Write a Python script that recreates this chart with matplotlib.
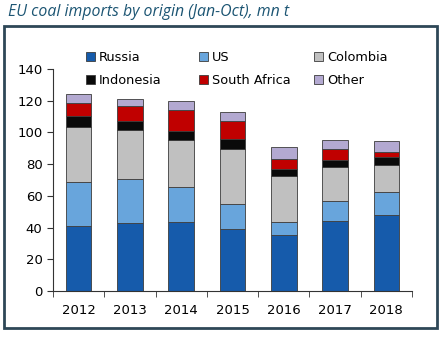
import matplotlib.pyplot as plt
from matplotlib.patches import Rectangle
import numpy as np

years = ["2012", "2013", "2014", "2015", "2016", "2017", "2018"]
russia = [41.0, 43.0, 43.4, 38.8, 35.6, 43.9, 47.7]
us = [27.9, 27.5, 22.2, 16.2, 7.8, 12.6, 14.7]
colombia = [34.3, 31.1, 29.7, 34.4, 29.3, 21.5, 17.1]
indonesia = [7.4, 5.3, 5.7, 6.3, 4.5, 4.7, 4.9]
south_africa = [8.0, 9.5, 13.3, 11.2, 6.3, 6.7, 3.3]
other = [5.7, 4.7, 5.7, 6.1, 7.6, 6.1, 6.8]

series = [("Russia", russia, "#165bab"),
          ("US", us, "#68a5dc"),
          ("Colombia", colombia, "#c0c0c0"),
          ("Indonesia", indonesia, "#0a0a0a"),
          ("South Africa", south_africa, "#c00000"),
          ("Other", other, "#b3a9d1")]

W, H = 443, 338
fig = plt.figure(figsize=(W / 100, H / 100), dpi=100)
plt.rcParams['font.family'] = ['DejaVu Sans']

# outer frame
fig.patches.append(Rectangle((4 / W, 1 - 328 / H), 433 / W, 302 / H,
                             transform=fig.transFigure, fill=False,
                             edgecolor="#2e4757", linewidth=2))
fig.text(8 / W, 1 - 12 / H, "EU coal imports by origin (Jan-Oct), mn t",
         fontsize=11.4, style="italic", family="Open Sans", color="#1c5573",
         va="center", ha="left")

ax = fig.add_axes([53 / W, 1 - 291 / H, 359 / W, 222 / H])
x = np.arange(len(years))
bottom = np.zeros(len(years))
handles = []
for name, vals, col in series:
    b = ax.bar(x, vals, 0.5, bottom=bottom, color=col, edgecolor="#3c3c3c",
               linewidth=0.6, label=name)
    bottom += np.array(vals)
    handles.append(b)

ax.set_xlim(-0.5, len(years) - 0.5)
ax.set_ylim(0, 140)
ax.set_yticks(range(0, 141, 20))
ax.set_xticks(x)
ax.set_xticklabels(years)
ax.set_xticks(np.arange(-0.5, len(years), 1), minor=True)
ax.tick_params(axis="x", which="major", length=0, pad=9, labelsize=9.5)
ax.tick_params(axis="x", which="minor", length=4, direction="out", color="#333333")
ax.tick_params(axis="y", length=4, direction="out", labelsize=9.5, color="#333333")
for s in ["top", "right"]:
    ax.spines[s].set_visible(False)
for s in ["left", "bottom"]:
    ax.spines[s].set_color("#333333")

# legend laid out on a fixed grid, one column per legend
cols = [(0, 3, 86), (1, 4, 199), (2, 5, 314)]
for i, j, px in cols:
    fig.legend([handles[i], handles[j]], [series[i][0], series[j][0]],
               loc="upper left", bbox_to_anchor=(px / W, 1 - 51 / H),
               frameon=False, fontsize=9.3, handlelength=0.7,
               handleheight=0.7, handletextpad=0.3, labelspacing=0.75,
               borderaxespad=0, borderpad=0)

fig.savefig("out.png", dpi=100)
